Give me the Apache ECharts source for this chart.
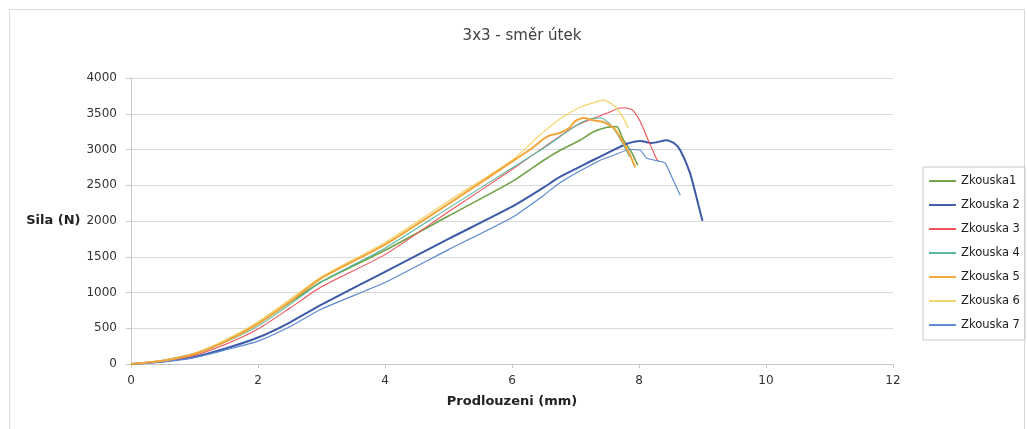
<!DOCTYPE html>
<html>
<head>
<meta charset="utf-8">
<title>3x3 - směr útek</title>
<script src="https://cdn.jsdelivr.net/npm/echarts@6/dist/echarts.min.js"></script>
<style>
  html, body { margin: 0; padding: 0; background: #ffffff; }
  #chart { width: 1027px; height: 429px; }
</style>
</head>
<body>
<div id="chart"></div>
<script>
// Tensile test curves: elongation (mm) vs. force (N), seven specimens.
const seriesNames = ['Zkouska1', 'Zkouska 2', 'Zkouska 3', 'Zkouska 4', 'Zkouska 5', 'Zkouska 6', 'Zkouska 7'];

// Each curve as [elongation mm, force N]
const zkouska1 = [[0,0],[0.5,50],[1,145],[1.5,330],[2,565],[2.5,860],[3,1150],[4,1590],[5,2070],[6,2550],[6.5,2850],[6.76,2990],[7.07,3130],[7.28,3245],[7.5,3310],[7.65,3320],[7.75,3140],[7.89,2950],[7.98,2780]];
const zkouska2 = [[0,0],[0.5,35],[1,100],[1.5,220],[2,370],[2.5,580],[3,830],[4,1290],[5,1750],[6,2200],[6.5,2470],[6.76,2620],[7.28,2853],[7.5,2950],[7.81,3080],[8.02,3120],[8.2,3090],[8.44,3130],[8.55,3090],[8.65,2990],[8.8,2680],[8.9,2350],[9.0,2000]];
const zkouska3 = [[0,0],[0.5,40],[1,120],[1.5,280],[2,490],[2.5,780],[3,1080],[4,1530],[5,2130],[6,2720],[6.5,3030],[7.0,3330],[7.34,3455],[7.54,3525],[7.7,3580],[7.8,3580],[7.9,3550],[8.02,3390],[8.14,3140],[8.25,2920],[8.3,2830]];
const zkouska4 = [[0,0],[0.5,45],[1,135],[1.5,310],[2,530],[2.5,830],[3,1150],[4,1620],[5,2180],[6,2740],[6.5,3020],[7.0,3330],[7.2,3420],[7.4,3440],[7.55,3350],[7.7,3150],[7.85,2900]];
const zkouska5 = [[0,0],[0.5,45],[1,140],[1.5,320],[2,560],[2.5,870],[3,1200],[4,1670],[5,2240],[6,2830],[6.3,3010],[6.5,3150],[6.6,3200],[6.75,3230],[6.9,3300],[7.0,3400],[7.12,3440],[7.28,3410],[7.44,3385],[7.6,3300],[7.7,3175],[7.86,2920],[7.94,2750]];
const zkouska6 = [[0,0],[0.5,50],[1,150],[1.5,340],[2,590],[2.5,900],[3,1220],[4,1700],[5,2280],[6,2850],[6.5,3250],[6.76,3430],[7.0,3560],[7.2,3630],[7.44,3690],[7.6,3620],[7.75,3450],[7.83,3300]];
const zkouska7 = [[0,0],[0.5,30],[1,90],[1.5,200],[2,320],[2.5,520],[3,770],[4,1140],[5,1600],[6,2050],[6.5,2360],[6.76,2540],[7.39,2850],[7.6,2920],[7.86,3000],[8.02,2990],[8.12,2880],[8.3,2840],[8.41,2810],[8.54,2570],[8.65,2360]];

const curves = [zkouska1, zkouska2, zkouska3, zkouska4, zkouska5, zkouska6, zkouska7];
const colors = ['#72a046', '#3d5aa6', '#f04f55', '#55b7a0', '#f2a53a', '#f6d46c', '#5b88d2'];
const widths = [1.6, 2, 1.1, 1.1, 2, 1.3, 1.2];

const xTicks = [0, 2, 4, 6, 8, 10, 12];
const yTicks = [0, 500, 1000, 1500, 2000, 2500, 3000, 3500, 4000];

const FONT = 'DejaVu Sans';
// Flat bar used as the legend key (a short line sample)
const LEGEND_LINE = 'path://M0,0 L28,0 L28,2 L0,2 Z';

const chart = echarts.init(document.getElementById('chart'), null, { renderer: 'canvas' });

chart.setOption({
  animation: false,
  backgroundColor: '#ffffff',
  textStyle: { fontFamily: FONT },
  title: {
    text: '3x3 - směr útek',
    left: 517,
    textAlign: 'center',
    top: 24,
    textStyle: { fontFamily: FONT, fontSize: 15, fontWeight: 'normal', color: '#404040' }
  },
  graphic: [{
    type: 'rect',
    shape: { x: 9.5, y: 9.5, width: 1015, height: 430 },
    style: { fill: 'none', stroke: '#d9d9d9', lineWidth: 1 },
    silent: true
  }],
  legend: {
    orient: 'vertical',
    left: 923,
    top: 167,
    padding: [8, 5, 9, 6],
    itemWidth: 27,
    itemHeight: 12,
    itemGap: 12,
    itemTextGap: 4,
    icon: LEGEND_LINE,
    borderColor: '#c6c6c6',
    borderWidth: 1,
    textStyle: { fontFamily: FONT, fontSize: 11.5, color: '#222', lineHeight: 12 },
    data: seriesNames
  },
  grid: { left: 131, right: 134, top: 78, bottom: 65 },
  xAxis: {
    type: 'value',
    min: xTicks[0],
    max: xTicks[xTicks.length - 1],
    interval: 2,
    name: 'Prodlouzeni (mm)',
    nameLocation: 'middle',
    nameGap: 31,
    nameTextStyle: { fontFamily: FONT, fontSize: 13, fontWeight: 'bold', color: '#222' },
    axisLine: { lineStyle: { color: '#c8c8c8' } },
    axisTick: { show: true, length: 4, lineStyle: { color: '#c8c8c8' } },
    axisLabel: { fontFamily: FONT, fontSize: 12, color: '#333', margin: 11 },
    splitLine: { show: false }
  },
  yAxis: {
    type: 'value',
    min: yTicks[0],
    max: yTicks[yTicks.length - 1],
    interval: 500,
    name: 'Sila (N)',
    nameLocation: 'middle',
    nameRotate: 0,
    nameGap: 49,
    nameTextStyle: { fontFamily: FONT, fontSize: 13, fontWeight: 'bold', color: '#222', align: 'right', verticalAlign: 'middle' },
    axisLine: { show: true, lineStyle: { color: '#c8c8c8' } },
    axisTick: { show: true, length: 5, lineStyle: { color: '#c8c8c8' } },
    axisLabel: { fontFamily: FONT, fontSize: 12, color: '#333', margin: 14, formatter: v => String(v) },
    splitLine: { lineStyle: { color: '#d9d9d9' } }
  },
  series: curves.map((d, i) => ({
    name: seriesNames[i],
    type: 'line',
    data: d,
    symbol: 'none',
    smooth: 0.2,
    color: colors[i],
    lineStyle: { width: widths[i], color: colors[i] },
    z: i === 4 ? 3 : 2
  }))
});
</script>
</body>
</html>
